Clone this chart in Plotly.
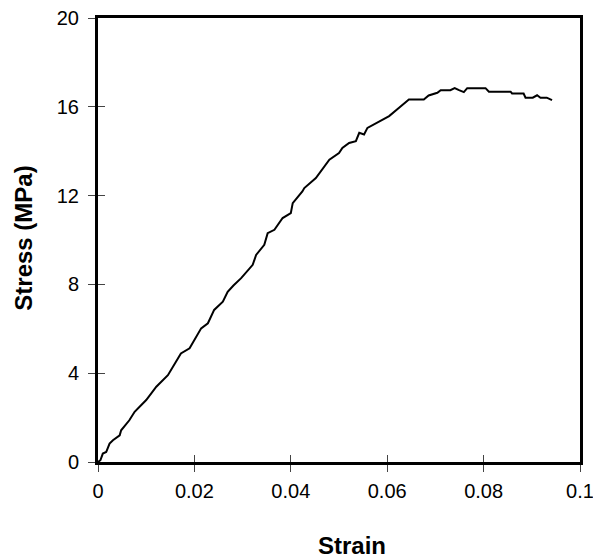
import plotly.graph_objects as go

strain = [0.0, 0.0005, 0.0010, 0.0017, 0.0024, 0.0031, 0.0045, 0.0048, 0.0065, 0.0076,
          0.0100, 0.0121, 0.0145, 0.0162, 0.0172, 0.0190, 0.0204, 0.0214, 0.0228, 0.0241,
          0.0259, 0.0269, 0.0281, 0.0297, 0.0321, 0.0328, 0.0345, 0.0352, 0.0366, 0.0383,
          0.0400, 0.0404, 0.0424, 0.0428, 0.0452, 0.0476, 0.0480, 0.0500, 0.0507, 0.0521,
          0.0535, 0.0542, 0.0552, 0.0559, 0.0580, 0.0604, 0.0624, 0.0645, 0.0676, 0.0686,
          0.0704, 0.0711, 0.0731, 0.0740, 0.0749, 0.0759, 0.0766, 0.0804, 0.0811, 0.0856,
          0.0859, 0.0883, 0.0887, 0.0902, 0.0911, 0.0918, 0.0931, 0.0942]
stress = [0.0, 0.08, 0.38, 0.45, 0.83, 0.98, 1.20, 1.43, 1.88, 2.26,
          2.79, 3.39, 3.91, 4.51, 4.89, 5.12, 5.64, 6.02, 6.25, 6.85,
          7.22, 7.67, 7.95, 8.28, 8.88, 9.33, 9.78, 10.31, 10.46, 10.99,
          11.21, 11.66, 12.19, 12.34, 12.79, 13.47, 13.62, 13.92, 14.15, 14.37,
          14.45, 14.83, 14.75, 15.05, 15.28, 15.58, 15.95, 16.33, 16.33, 16.51,
          16.63, 16.75, 16.75, 16.84, 16.75, 16.66, 16.84, 16.84, 16.68, 16.68,
          16.60, 16.60, 16.41, 16.41, 16.52, 16.41, 16.41, 16.30]

x_ticks = [0, 0.02, 0.04, 0.06, 0.08, 0.1]
x_labels = ["0", "0.02", "0.04", "0.06", "0.08", "0.1"]
y_ticks = [0, 4, 8, 12, 16, 20]
y_labels = ["0", "4", "8", "12", "16", "20"]
x_title = "Strain"
y_title = "Stress (MPa)"

FONT = "Liberation Sans, Arial, sans-serif"

fig = go.Figure()
fig.add_trace(go.Scatter(x=strain, y=stress, mode="lines",
                         line=dict(color="black", width=2), showlegend=False,
                         hoverinfo="skip"))
# invisible trace to carry inner tick axes
fig.add_trace(go.Scatter(x=[None], y=[None], xaxis="x2", yaxis="y2",
                         showlegend=False, hoverinfo="skip"))

axis_common = dict(showgrid=False, zeroline=False, automargin=False)

fig.update_layout(
    width=593, height=560,
    paper_bgcolor="white", plot_bgcolor="white",
    margin=dict(l=98, r=13, t=18, b=98),
    font=dict(family=FONT, color="black", size=20),
    xaxis=dict(range=[0, 0.1], tickvals=x_ticks, ticktext=x_labels,
               showline=True, linecolor="black", linewidth=3, mirror=True,
               ticks="outside", ticklen=7, tickwidth=1, tickcolor="#444",
               tickfont=dict(size=20, family=FONT), ticklabelstandoff=2,
               ticklabeloverflow="allow",
               **axis_common),
    yaxis=dict(range=[0, 20], tickvals=y_ticks, ticktext=y_labels,
               showline=True, linecolor="black", linewidth=3, mirror=True,
               ticks="outside", ticklen=7, tickwidth=1, tickcolor="#444",
               tickfont=dict(size=20, family=FONT), ticklabelstandoff=5,
               ticklabeloverflow="allow",
               **axis_common),
    xaxis2=dict(range=[0, 0.1], tickvals=x_ticks, overlaying="x", side="bottom",
                ticks="inside", ticklen=7, tickwidth=1, tickcolor="#444",
                showticklabels=False, showline=False, **axis_common),
    yaxis2=dict(range=[0, 20], tickvals=y_ticks, overlaying="y", side="left",
                ticks="inside", ticklen=7, tickwidth=1, tickcolor="#444",
                showticklabels=False, showline=False, **axis_common),
    annotations=[
        dict(text="<b>" + x_title + "</b>", xref="paper", yref="paper",
             x=0.528, y=-0.189, xanchor="center", yanchor="middle",
             showarrow=False, font=dict(size=24, family=FONT)),
        dict(text="<b>" + y_title + "</b>", xref="paper", yref="paper",
             x=-0.1535, y=0.503, xanchor="center", yanchor="middle", textangle=-90,
             showarrow=False, font=dict(size=24, family=FONT)),
    ],
)

fig.write_html("out.html", config={"displayModeBar": False},
               post_script="document.body.style.margin='0';document.body.style.overflow='hidden';")
